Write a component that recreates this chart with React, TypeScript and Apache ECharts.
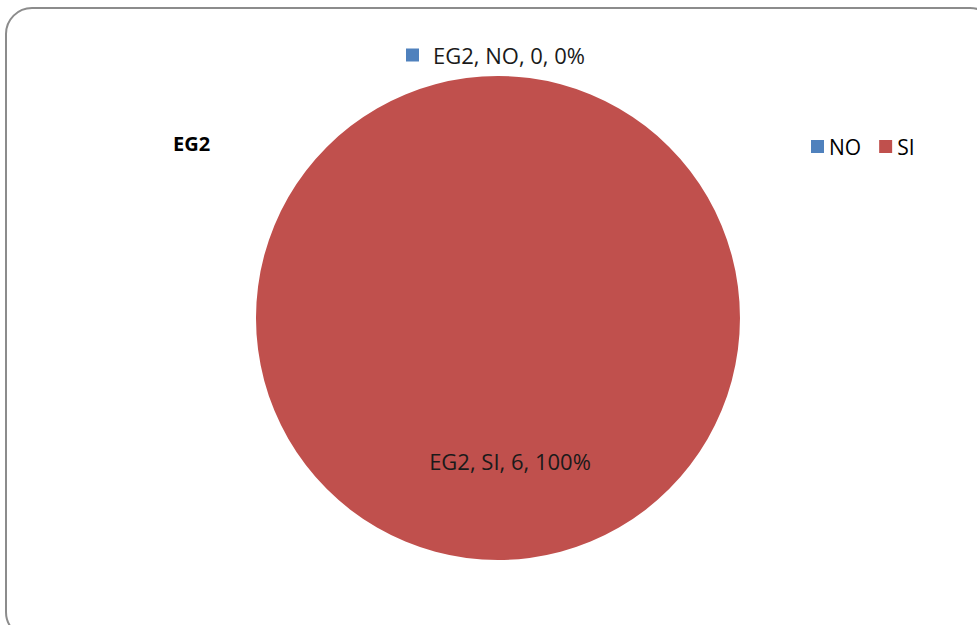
import React, { useEffect, useRef } from "react";
import * as echarts from "echarts";

const categories = ["NO", "SI"];
const values = [0, 6];
const seriesName = "EG2";
const colors = ["#4F81BD", "#C0504D"];

export default function App() {
  const ref = useRef<HTMLDivElement>(null);
  useEffect(() => {
    if (!ref.current) return;
    const chart = echarts.init(ref.current, null, { renderer: "svg" });
    const total = values.reduce((a, b) => a + b, 0);
    const font = "'Open Sans', 'Liberation Sans', Arial, sans-serif";
    chart.setOption({
      animation: false,
      textStyle: { fontFamily: font },
      title: {
        text: seriesName,
        left: 168,
        top: 128,
        textStyle: { fontSize: 20, fontWeight: "bold", color: "#000", fontFamily: font },
      },
      legend: {
        data: categories,
        left: 806,
        top: 131,
        itemWidth: 13,
        itemHeight: 13,
        itemGap: 18,
        icon: "rect",
        textStyle: { fontSize: 21, color: "#000", fontFamily: font, padding: [0, 0, 0, 0] },
      },
      graphic: [
        {
          type: "rect",
          shape: { x: 6, y: 8, width: 990, height: 630, r: 26 },
          style: { fill: "none", stroke: "#8c8c8c", lineWidth: 2 },
          silent: true,
          z: -1,
        },
      ],
      series: [
        {
          type: "pie",
          name: seriesName,
          center: [498, 318],
          radius: [0, 242],
          startAngle: 90,
          clockwise: true,
          data: categories.map((c, i) => ({
            name: c,
            value: values[i],
            itemStyle: { color: colors[i] },
          })),
          label: {
            show: true,
            position: "inside",
            fontSize: 22,
            color: "#1a1a1a",
            fontFamily: font,
            formatter: (p: any) => {
              const pct = total ? Math.round((p.value / total) * 100) : 0;
              const t = `${seriesName}, ${p.name}, ${p.value}, ${pct}%`;
              return p.dataIndex === 0 ? `{m|}{t|${t}}` : t;
            },
            rich: {
              m: { width: 13, height: 13, backgroundColor: colors[0], padding: 0 },
              t: { fontSize: 22, color: "#1a1a1a", fontFamily: font, padding: [0, 0, 0, 14] },
            },
          },
          labelLine: { show: false },
          labelLayout: (params: any) =>
            params.dataIndex === 0
              ? { x: 406, y: 55, align: "left", verticalAlign: "middle" }
              : { x: 510, y: 461, align: "center", verticalAlign: "middle" },
          emphasis: { disabled: true },
        },
      ],
    });
    return () => chart.dispose();
  }, []);
  return (
    <div
      ref={ref}
      style={{ position: "absolute", left: 0, top: 0, width: 977, height: 625, background: "#fff" }}
    />
  );
}
